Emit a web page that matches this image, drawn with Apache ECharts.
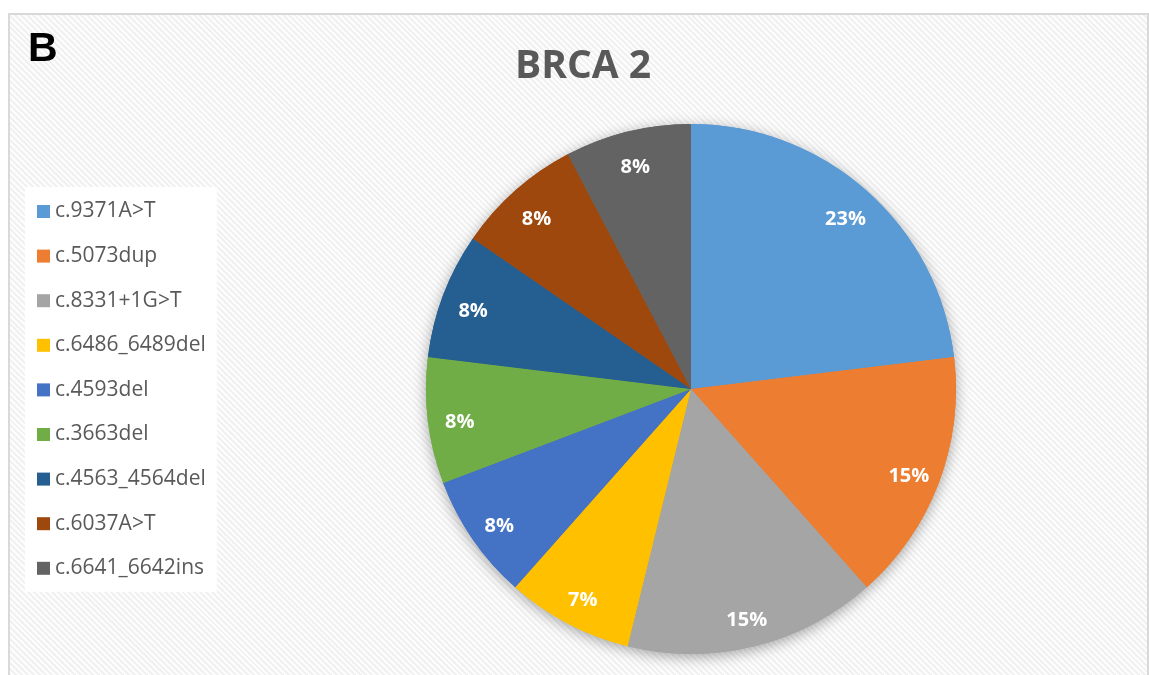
<!DOCTYPE html>
<html>
<head>
<meta charset="utf-8">
<script src="https://cdn.jsdelivr.net/npm/echarts@6/dist/echarts.min.js"></script>
<style>
  html, body { margin: 0; padding: 0; background: #fff; }
  #wrap { position: relative; width: 1149px; height: 675px; overflow: hidden; }
  #frame {
    position: absolute; left: 8px; top: 13px; width: 1137px; height: 700px;
    border: 2px solid #d9d9d9;
    background: repeating-linear-gradient(45deg, #fdfdfd 0px, #fdfdfd 2.1px, #f1f1f1 2.1px, #f1f1f1 4.2px);
  }
  #chart { position: absolute; left: 0; top: 0; width: 1149px; height: 675px; }
</style>
</head>
<body>
<div id="wrap">
  <div id="frame"></div>
  <div id="chart"></div>
</div>
<script>
// BRCA 2 variants: number of carriers, and the % labels as printed on the chart
const variants = ['c.9371A>T', 'c.5073dup', 'c.8331+1G>T', 'c.6486_6489del', 'c.4593del',
                  'c.3663del', 'c.4563_4564del', 'c.6037A>T', 'c.6641_6642ins'];
const counts = [3, 2, 2, 1, 1, 1, 1, 1, 1];
const pctLabels = ['23%', '15%', '15%', '7%', '8%', '8%', '8%', '8%', '8%'];
const colors = ['#5B9BD5', '#ED7D31', '#A5A5A5', '#FFC000', '#4472C4',
                '#70AD47', '#255E91', '#9E480E', '#636363'];

const data = variants.map((name, i) => ({value: counts[i], name, pct: pctLabels[i]}));

const center = [691, 389];
const R = 265;

const chart = echarts.init(document.getElementById('chart'));
chart.setOption({
  backgroundColor: 'transparent',
  color: colors,
  animation: false,
  title: [
    {
      text: 'B', left: 23, top: 24,
      textStyle: {fontFamily: 'Liberation Sans', fontWeight: 'bold', fontSize: 41, color: '#000'}
    },
    {
      text: 'BRCA 2', left: 510, top: 42,
      textStyle: {fontFamily: 'Open Sans', fontWeight: 'bold', fontSize: 39, color: '#595959'}
    }
  ],
  legend: {
    orient: 'vertical',
    left: 25, top: 187,
    padding: [14, 11, 13, 12],
    backgroundColor: '#fff',
    itemWidth: 13, itemHeight: 13,
    itemGap: 23.6,
    icon: 'rect',
    data: variants,
    textStyle: {fontFamily: 'Open Sans', fontSize: 21, color: '#595959', lineHeight: 20}
  },
  series: [
    // drop shadow under the whole pie
    {
      type: 'pie', center, radius: R, silent: true, z: 1,
      data, label: {show: false}, labelLine: {show: false},
      itemStyle: {shadowBlur: 14, shadowColor: 'rgba(0,0,0,0.35)', shadowOffsetY: 3}
    },
    // slices
    {
      type: 'pie', center, radius: R, silent: true, z: 2,
      data, label: {show: false}, labelLine: {show: false},
      itemStyle: {borderWidth: 0}
    },
    // label ring (transparent) so labels sit near the rim like Excel's best fit
    {
      type: 'pie', center, radius: [195, R], silent: true, z: 3,
      data,
      itemStyle: {color: 'rgba(0,0,0,0)'},
      label: {
        show: true, position: 'inside', offset: [0, 5],
        formatter: p => p.data.pct,
        fontFamily: 'Open Sans', fontWeight: 'bold', fontSize: 20, color: '#fff'
      },
      labelLine: {show: false}
    }
  ]
});
</script>
</body>
</html>
